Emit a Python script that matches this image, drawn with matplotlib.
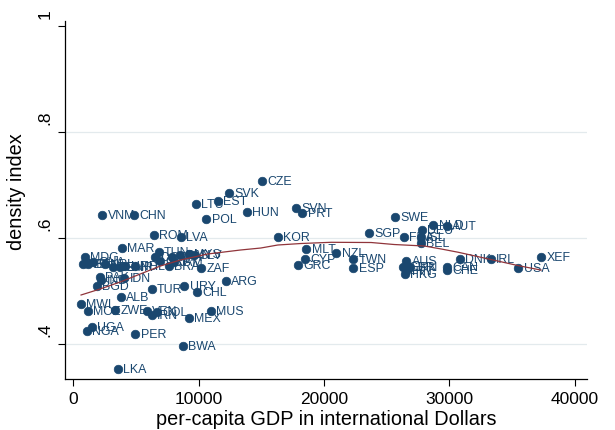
import matplotlib
matplotlib.use("Agg")
import matplotlib.pyplot as plt
from matplotlib.transforms import ScaledTranslation

plt.rcParams["font.family"] = ["Liberation Sans", "DejaVu Sans"]

# Country codes, per-capita GDP (international $) and density index
countries = [
    "VNM", "CHN", "LTU", "EST", "SVK", "CZE", "HUN", "POL", "SVN", "PRT",
    "ROM", "LVA", "KOR", "MAR", "TUN", "SGP", "SWE", "NLD", "DEU", "AUT",
    "FRA", "ISL", "BEL", "MLT", "NZL", "CYP", "GRC", "TWN", "ESP", "AUS",
    "JPN", "GBR", "FIN", "HKG", "CAN", "CHE", "DNK", "IRL", "USA", "XEF",
    "DOM", "CRI", "THA", "PAN", "MYS", "SLV", "JAM", "BRA", "ZAF", "ARG",
    "TUR", "URY", "CHL", "MUS", "MEX", "VEN", "COL", "IRN", "ALB", "MWI",
    "MOZ", "ZWE", "UGA", "NGA", "PER", "BWA", "LKA", "IDN", "PAK", "IND",
    "BGD", "MDG", "KEN", "BEN", "GHA", "NPL", "SEN", "CMR", "HND", "PHL",
]
gdp = [
    2340, 4880, 9780, 11560, 12400, 15060, 13840, 10620, 17760, 18280,
    6460, 8620, 16320, 3920, 6840, 23600, 25640, 28720, 27820, 29800,
    26360, 27760, 27700, 18600, 20980, 18480, 17960, 22340, 22340, 26560,
    26820, 26300, 26560, 26420, 29780, 29800, 30820, 33300, 35500, 37300,
    6560, 6960, 7900, 8560, 9220, 9620, 8020, 7620, 10200, 12160,
    6280, 8880, 9880, 10960, 9220, 5900, 6700, 6300, 3800, 640,
    1160, 3360, 1480, 1100, 4960, 8780, 3600, 4080, 2120, 2240,
    1900, 920, 780, 1220, 1620, 2560, 3220, 3760, 4160, 4960,
]
density = [
    0.644, 0.644, 0.665, 0.669, 0.684, 0.707, 0.649, 0.635, 0.657, 0.647,
    0.605, 0.602, 0.602, 0.582, 0.573, 0.609, 0.639, 0.625, 0.615, 0.622,
    0.602, 0.601, 0.591, 0.580, 0.572, 0.560, 0.550, 0.560, 0.544, 0.557,
    0.545, 0.545, 0.538, 0.532, 0.545, 0.539, 0.560, 0.560, 0.543, 0.565,
    0.564, 0.557, 0.564, 0.567, 0.570, 0.567, 0.554, 0.548, 0.544, 0.519,
    0.504, 0.509, 0.498, 0.462, 0.449, 0.463, 0.460, 0.454, 0.488, 0.475,
    0.463, 0.465, 0.432, 0.425, 0.418, 0.396, 0.352, 0.525, 0.527, 0.521,
    0.510, 0.564, 0.551, 0.551, 0.554, 0.551, 0.545, 0.545, 0.548, 0.547,
]

# Smoothed fit (lowess) of density on GDP
fit_gdp = [640, 2160, 3760, 5360, 6960, 8560, 10720, 13360, 14960, 16320,
           18160, 20560, 23760, 25600, 28000, 29360, 30720, 33120, 35520, 37300]
fit_density = [0.4925, 0.5038, 0.5170, 0.5321, 0.5472, 0.5585, 0.5698, 0.5774,
               0.5811, 0.5868, 0.5896, 0.5919, 0.5915, 0.5877, 0.5849, 0.5792,
               0.5730, 0.5604, 0.5477, 0.5395]

x_ticks = [0, 10000, 20000, 30000, 40000]
x_ticklabels = ["0", "10000", "20000", "30000", "40000"]
y_ticks = [0.4, 0.6, 0.8, 1.0]
y_ticklabels = [".4", ".6", ".8", "1"]

navy = "#1a476f"
maroon = "#90353b"

W, H = 615, 431
fig = plt.figure(figsize=(W / 100, H / 100), dpi=100)
ax = fig.add_axes([65 / W, 51 / H, 522 / W, 358 / H])

for yv in [0.4, 0.6, 0.8]:
    ax.axhline(yv, color="#e3eaed", lw=0.9, zorder=0)

ax.scatter(gdp, density, s=38, color=navy, edgecolors=navy, linewidths=0.5, zorder=3)
for c, xv, yv in zip(countries, gdp, density):
    ax.annotate(c, (xv, yv), xytext=(3.8, 0), textcoords="offset points",
                ha="left", va="center", fontsize=8.9, color=navy, zorder=4)

ax.plot(fit_gdp, fit_density, color=maroon, lw=0.9, zorder=5)

ax.set_xlim(-640, 40960)
ax.set_ylim(0.334, 1.0094)
ax.set_xticks(x_ticks)
ax.set_xticklabels(x_ticklabels, fontsize=12.5)
ax.set_yticks(y_ticks)
ax.set_yticklabels(y_ticklabels, fontsize=12.5, rotation=90, va="bottom")
ax.tick_params(direction="out", length=5, width=0.8, pad=4, colors="black")

# vertical tick labels sit a little above their ticks
shift = ScaledTranslation(0, 6 / 72, fig.dpi_scale_trans)
for lab in ax.get_yticklabels():
    lab.set_transform(lab.get_transform() + shift)

for side in ["top", "right"]:
    ax.spines[side].set_visible(False)
for side in ["left", "bottom"]:
    ax.spines[side].set_linewidth(0.9)

ax.set_xlabel("per-capita GDP in international Dollars", fontsize=14.3, labelpad=2)
ax.set_ylabel("density index", fontsize=14.3, labelpad=6)
ax.yaxis.set_label_coords(-0.075, 0.525)

fig.savefig("out.png", dpi=100, facecolor="white")
